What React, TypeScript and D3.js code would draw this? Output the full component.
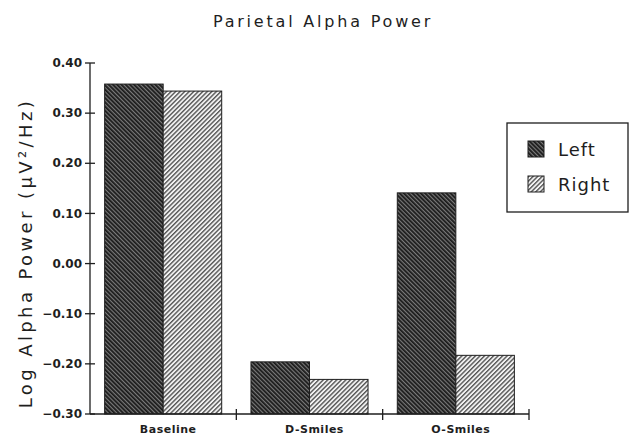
import React from "react";
import * as d3 from "d3";

// values
const categories = ["Baseline", "D-Smiles", "O-Smiles"];
const seriesNames = ["Left", "Right"];
const leftValues = [0.358, -0.196, 0.141];
const rightValues = [0.344, -0.231, -0.183];
const yTickValues = [-0.3, -0.2, -0.1, 0.0, 0.1, 0.2, 0.3, 0.4];

const W = 633;
const H = 435;
const margin = { top: 63, right: 104, bottom: 21, left: 90 };

const App = () => {
  const innerW = W - margin.left - margin.right;
  const innerH = H - margin.top - margin.bottom;

  const y = d3.scaleLinear().domain([-0.3, 0.4]).range([innerH, 0]);
  const x0 = d3.scaleBand().domain(categories).range([0, innerW]).padding(0);
  const x1 = d3
    .scaleBand()
    .domain(seriesNames)
    .range([0, x0.bandwidth()])
    .paddingInner(0)
    .paddingOuter(0.25);

  const fmt = d3.format(".2f");
  const rows = categories.map((c, i) => ({
    cat: c,
    vals: [
      { key: "Left", v: leftValues[i] },
      { key: "Right", v: rightValues[i] },
    ],
  }));
  const fills = { Left: "url(#hatchLeft)", Right: "url(#hatchRight)" };
  const boundaries = categories.map((c) => (x0(c) || 0) + x0.bandwidth());
  const ink = "#1e1e1e";
  const font = "'DejaVu Sans', sans-serif";

  return (
    <svg
      width={W}
      height={H}
      style={{ position: "absolute", left: 0, top: 0, background: "#fff" }}
      fontFamily={font}
    >
      <defs>
        <pattern
          id="hatchLeft"
          width="3"
          height="3"
          patternUnits="userSpaceOnUse"
          patternTransform="rotate(-45)"
        >
          <rect width="3" height="3" fill="#7a7a7a" />
          <line x1="0.9" y1="0" x2="0.9" y2="3" stroke="#1a1a1a" strokeWidth="1.8" />
        </pattern>
        <pattern
          id="hatchRight"
          width="3.2"
          height="3.2"
          patternUnits="userSpaceOnUse"
          patternTransform="rotate(45)"
        >
          <rect width="3.2" height="3.2" fill="#f2f2f2" />
          <line x1="0.7" y1="0" x2="0.7" y2="3.2" stroke="#4a4a4a" strokeWidth="1.3" />
        </pattern>
      </defs>

      <text
        x={323}
        y={27}
        textAnchor="middle"
        fontSize={16}
        letterSpacing={2.8}
        fill={ink}
      >
        Parietal Alpha Power
      </text>

      <g transform={`translate(${margin.left},${margin.top})`}>
        {rows.map((r) => (
          <g key={r.cat} transform={`translate(${x0(r.cat)},0)`}>
            {r.vals.map((d) => (
              <rect
                key={d.key}
                x={x1(d.key)}
                y={y(d.v)}
                width={x1.bandwidth()}
                height={y(-0.3) - y(d.v)}
                fill={fills[d.key]}
                stroke={ink}
                strokeWidth={1}
              />
            ))}
          </g>
        ))}

        {/* y axis */}
        <line x1={0} x2={0} y1={y(0.4)} y2={y(-0.3)} stroke={ink} strokeWidth={1.3} />
        {yTickValues.map((t) => (
          <g key={t} transform={`translate(0,${y(t)})`}>
            <line x1={-5} x2={5} stroke={ink} strokeWidth={1.3} />
            <text
              x={-8}
              dy="0.35em"
              textAnchor="end"
              fontSize={12}
              fontWeight="bold"
              fill={ink}
            >
              {fmt(t)}
            </text>
          </g>
        ))}

        {/* x axis */}
        <line x1={0} x2={innerW} y1={innerH} y2={innerH} stroke={ink} strokeWidth={1.3} />
        {boundaries.map((b, i) => (
          <line
            key={i}
            x1={b}
            x2={b}
            y1={innerH - 5}
            y2={innerH + 6}
            stroke={ink}
            strokeWidth={1.3}
          />
        ))}
        {categories.map((c) => (
          <text
            key={c}
            x={(x0(c) || 0) + x0.bandwidth() / 2 + 5}
            y={innerH + 19}
            textAnchor="middle"
            fontSize={11}
            fontWeight="bold"
            letterSpacing={0.5}
            fill={ink}
          >
            {c}
          </text>
        ))}
      </g>

      <text
        transform={`translate(32,${253}) rotate(-90)`}
        textAnchor="middle"
        fontSize={18}
        letterSpacing={3.4}
        fill={ink}
      >
        Log Alpha Power (μV²/Hz)
      </text>

      {/* legend */}
      <g transform="translate(507,123)">
        <rect width={121} height={89} fill="#fff" stroke={ink} strokeWidth={1.3} />
        {seriesNames.map((s, i) => (
          <g key={s} transform={`translate(21,${18 + i * 35})`}>
            <rect width={16} height={16} fill={fills[s]} stroke={ink} strokeWidth={1} />
            <text x={30} y={15} fontSize={18} letterSpacing={1} fill={ink}>
              {s}
            </text>
          </g>
        ))}
      </g>
    </svg>
  );
};

export default App;
